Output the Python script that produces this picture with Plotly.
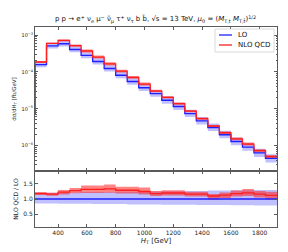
import plotly.graph_objects as go

# ---- data ----
edges = [240, 320, 400, 480, 560, 640, 720, 800, 880, 960, 1040, 1120,
         1200, 1280, 1360, 1440, 1520, 1600, 1680, 1760, 1840, 1920]
lo = [1.58e-4, 5.13e-4, 5.82e-4, 4.07e-4, 2.80e-4, 1.92e-4, 1.24e-4, 8.13e-5,
      5.50e-5, 3.72e-5, 2.57e-5, 1.70e-5, 1.15e-5, 7.41e-6, 4.68e-6, 3.09e-6,
      1.97e-6, 1.29e-6, 9.12e-7, 6.31e-7, 4.47e-7]
nlo = [1.86e-4, 5.95e-4, 7.16e-4, 5.21e-4, 3.70e-4, 2.53e-4, 1.66e-4, 1.05e-4,
       7.10e-5, 4.65e-5, 3.03e-5, 2.04e-5, 1.38e-5, 8.60e-6, 5.43e-6, 3.40e-6,
       2.23e-6, 1.52e-6, 1.10e-6, 7.32e-7, 5.00e-7]
# scale-uncertainty envelopes, relative to LO central value
lo_up = [1.21, 1.21, 1.22, 1.22, 1.23, 1.23, 1.23, 1.24, 1.24, 1.25, 1.25,
         1.26, 1.26, 1.27, 1.27, 1.28, 1.28, 1.29, 1.29, 1.30, 1.30]
lo_dn = [0.85, 0.85, 0.84, 0.84, 0.84, 0.83, 0.83, 0.83, 0.82, 0.82, 0.82,
         0.81, 0.81, 0.81, 0.80, 0.80, 0.80, 0.79, 0.79, 0.78, 0.78]
nlo_up = [1.23, 1.21, 1.30, 1.37, 1.45, 1.45, 1.48, 1.41, 1.41, 1.38, 1.27,
          1.29, 1.29, 1.24, 1.24, 1.17, 1.22, 1.28, 1.33, 1.27, 1.24]
nlo_dn = [1.13, 1.11, 1.15, 1.19, 1.20, 1.20, 1.21, 1.18, 1.18, 1.15, 1.10,
          1.12, 1.12, 1.08, 1.08, 0.98, 1.03, 1.08, 1.10, 1.05, 0.98]
xticks = [400, 600, 800, 1000, 1200, 1400, 1600, 1800]
yticks_main = [1e-6, 1e-5, 1e-4, 1e-3]
yticks_main_text = ["10<sup>−6</sup>", "10<sup>−5</sup>", "10<sup>−4</sup>", "10<sup>−3</sup>"]
yticks_ratio = [0.5, 1.0, 1.5]

BLUE = "#1f1fff"
RED = "#ff1f1f"
BLUE_FILL = "rgba(60,60,255,0.32)"
RED_FILL = "rgba(255,30,30,0.55)"
AX = "#5a5a5a"
FONT = "DejaVu Sans"


def stepy(v):
    return list(v) + [v[-1]]


ratio = [n / l for n, l in zip(nlo, lo)]
ones = [1.0 for _ in lo]
lo_abs_up = [l * u for l, u in zip(lo, lo_up)]
lo_abs_dn = [l * d for l, d in zip(lo, lo_dn)]
nlo_abs_up = [l * u for l, u in zip(lo, nlo_up)]
nlo_abs_dn = [l * d for l, d in zip(lo, nlo_dn)]

fig = go.Figure()


def band(lower, upper, color, xa, ya):
    fig.add_trace(go.Scatter(x=edges, y=stepy(lower), mode="lines", line=dict(width=0, shape="hv"),
                             showlegend=False, hoverinfo="skip", xaxis=xa, yaxis=ya))
    fig.add_trace(go.Scatter(x=edges, y=stepy(upper), mode="lines", line=dict(width=0, shape="hv"),
                             fill="tonexty", fillcolor=color, showlegend=False, hoverinfo="skip",
                             xaxis=xa, yaxis=ya))


# main panel
band(lo_abs_dn, lo_abs_up, BLUE_FILL, "x", "y")
band(nlo_abs_dn, nlo_abs_up, RED_FILL, "x", "y")
fig.add_trace(go.Scatter(x=[edges[0]] + edges, y=[7e-6] + stepy(lo), mode="lines",
                         line=dict(color=BLUE, width=1.3, shape="hv"), name="LO",
                         showlegend=False, xaxis="x", yaxis="y"))
fig.add_trace(go.Scatter(x=[edges[0]] + edges, y=[7e-6] + stepy(nlo), mode="lines",
                         line=dict(color=RED, width=1.3, shape="hv"), name="NLO QCD",
                         showlegend=False, xaxis="x", yaxis="y"))

# ratio panel
band(lo_dn, lo_up, BLUE_FILL, "x2", "y2")
band(nlo_dn, nlo_up, RED_FILL, "x2", "y2")
fig.add_trace(go.Scatter(x=edges, y=stepy(ones), mode="lines",
                         line=dict(color=BLUE, width=1.3, shape="hv"), showlegend=False,
                         xaxis="x2", yaxis="y2"))
fig.add_trace(go.Scatter(x=edges, y=stepy(ratio), mode="lines",
                         line=dict(color=RED, width=1.3, shape="hv"), showlegend=False,
                         xaxis="x2", yaxis="y2"))

minor_vals = [m * 10.0 ** e for e in range(-7, -2) for m in range(2, 10)]

common_x = dict(range=[edges[0], edges[-1]], tickvals=xticks, ticks="inside", ticklen=3,
                tickcolor=AX, showline=True, linecolor=AX, linewidth=1, mirror="allticks",
                showgrid=False, zeroline=False)

fig.update_layout(
    width=288, height=252,
    margin=dict(l=35, r=11, t=27, b=25, autoexpand=False),
    paper_bgcolor="white", plot_bgcolor="white",
    font=dict(family=FONT, size=6, color="#222"),
    showlegend=False,
    title=dict(text="p p → e<sup>+</sup> ν<sub>e</sub> μ<sup>−</sup> ν̄<sub>μ</sub> τ<sup>+</sup> ν<sub>τ</sub> b b̄, "
                    "√s = 13 TeV, <i>μ</i><sub>0</sub> = (<i>M</i><sub>T,t</sub> <i>M</i><sub>T,t̄</sub>)<sup>1/2</sup>",
               x=0.54, xanchor="center", y=1 - 19 / 252, yanchor="middle",
               font=dict(family=FONT, size=7, color="#111")),
    xaxis=dict(domain=[0, 1], anchor="y", showticklabels=False, **common_x),
    xaxis2=dict(domain=[0, 1], anchor="y2", matches="x", showticklabels=True,
                tickfont=dict(size=6),
                title=dict(text="<i>H</i><sub>T</sub> [GeV]", font=dict(size=7), standoff=2),
                **common_x),
    yaxis=dict(domain=[0.28, 1], type="log", range=[-6.69, -2.78], tickvals=yticks_main,
               ticktext=yticks_main_text, ticks="inside", ticklen=3, tickcolor=AX,
               minor=dict(tickvals=minor_vals, ticks="inside", ticklen=1.5, tickcolor=AX),
               showline=True, linecolor=AX, linewidth=1, mirror="allticks", showgrid=False,
               tickfont=dict(size=5), zeroline=False,
               title=dict(text="dσ/dH<sub>T</sub> [fb/GeV]", font=dict(size=5.5), standoff=4)),
    yaxis2=dict(domain=[0, 0.28], range=[0.067, 1.933], tickvals=yticks_ratio,
                ticktext=["0.5", "1.0", "1.5"], ticks="inside", ticklen=3, tickcolor=AX,
                showline=True, linecolor=AX, linewidth=1, mirror="allticks", showgrid=False,
                zeroline=False, tickfont=dict(size=6),
                title=dict(text="NLO QCD / LO", font=dict(size=6), standoff=4)),
)

# legend (drawn as a box with line samples)
def px(xp):
    return (xp - 35) / 242.0


def py(yp):
    return (227 - yp) / 200.0


fig.add_shape(type="rect", xref="paper", yref="paper", x0=px(215), x1=px(274), y0=py(52), y1=py(29),
              line=dict(color="#d0d0d0", width=0.8), fillcolor="white", layer="above")
for yy, col, label in [(35, BLUE, "LO"), (45, RED, "NLO QCD")]:
    fig.add_shape(type="line", xref="paper", yref="paper", x0=px(219), x1=px(232), y0=py(yy), y1=py(yy),
                  line=dict(color=col, width=1.3), layer="above")
    fig.add_annotation(xref="paper", yref="paper", x=px(236), y=py(yy), text=label, showarrow=False,
                       xanchor="left", yanchor="middle", font=dict(family=FONT, size=7, color="#111"))

fig.write_html("out.html", config={"displayModeBar": False},
               post_script="document.body.style.margin='0';")
